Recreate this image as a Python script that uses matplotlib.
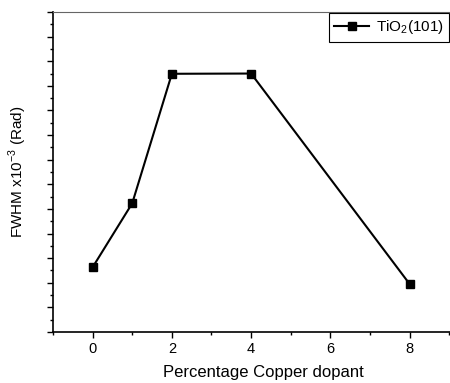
import matplotlib
matplotlib.use("Agg")
import matplotlib.pyplot as plt
from matplotlib.ticker import MultipleLocator, NullFormatter

plt.rcParams["font.family"] = ["Liberation Sans", "DejaVu Sans"]
plt.rcParams["mathtext.fontset"] = "custom"
plt.rcParams["mathtext.rm"] = "Liberation Sans"

# Cu doping level (%) and FWHM of the TiO2 (101) peak
cu_percent = [0, 1, 2, 4, 8]
fwhm = [2.63, 5.23, 10.49, 10.50, 1.95]
series_label = "TiO$_2$(101)"

fig = plt.figure(figsize=(4.5, 3.83), dpi=100)
ax = fig.add_axes([53 / 450, 51 / 383, 420 / 450, 320 / 383])

ax.plot(cu_percent, fwhm, color="black", lw=1.5, marker="s", ms=6,
        label=series_label)

ax.set_xlim(-1, 9.6)
ax.set_ylim(0, 13)
ax.xaxis.set_major_locator(MultipleLocator(2))
ax.xaxis.set_minor_locator(MultipleLocator(1))
ax.yaxis.set_major_locator(MultipleLocator(1))
ax.yaxis.set_minor_locator(MultipleLocator(0.5))
ax.yaxis.set_major_formatter(NullFormatter())

ax.tick_params(which="major", direction="out", length=4, width=1, labelsize=10.5)
ax.tick_params(which="minor", direction="out", length=2.5, width=1)

ax.spines["right"].set_visible(False)
ax.spines["top"].set_color("#666666")
ax.spines["left"].set_linewidth(1.2)
ax.spines["bottom"].set_linewidth(1.2)

ax.set_xlabel("Percentage Copper dopant", fontsize=12, labelpad=6)
ax.set_ylabel("FWHM x10$^{-3}$ (Rad)", fontsize=11, labelpad=10)

leg = ax.legend(loc="upper left", bbox_to_anchor=(329 / 450, 1 - 13 / 383),
                bbox_transform=fig.transFigure, fancybox=False, framealpha=1,
                edgecolor="black", fontsize=11, handlelength=2.3,
                borderpad=0.35, handletextpad=0.4, borderaxespad=0)
leg.get_frame().set_linewidth(0.8)

fig.savefig("out.png", dpi=100)
